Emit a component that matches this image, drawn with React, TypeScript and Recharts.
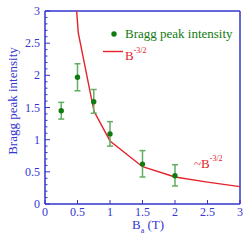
import {
  ComposedChart, Scatter, Line, XAxis, YAxis, ErrorBar, ReferenceLine,
} from 'recharts'

// measured Bragg peak intensity vs applied field
const fieldT = [0.25, 0.5, 0.75, 1.0, 1.5, 2.0]
const intensity = [1.45, 1.97, 1.59, 1.09, 0.62, 0.44]
const errLow = [0.13, 0.21, 0.18, 0.19, 0.2, 0.16]
const errHigh = [0.13, 0.21, 0.19, 0.19, 0.21, 0.17]

// B^-3/2 guide curve
const curveB = [0.487, 0.512, 0.754, 1.0, 1.5, 2.0, 2.5, 3.0]
const curveI = [3.0, 2.66, 1.44, 0.98, 0.58, 0.42, 0.34, 0.27]

const xTicks = [0, 0.5, 1, 1.5, 2, 2.5, 3]
const yMajor = [0, 0.5, 1, 1.5, 2, 2.5, 3]
const yTicks = yMajor.flatMap((v, i) =>
  i === yMajor.length - 1 ? [v] : [0, 0.1, 0.2, 0.3, 0.4].map(d => +(v + d).toFixed(1)),
)

const points = fieldT.map((b, i) => ({ b, v: intensity[i], err: [errLow[i], errHigh[i]] }))
const curve = curveB.map((b, i) => ({ b, c: curveI[i] }))

const BLUE = '#3535d0'
const GREEN = '#117a11'
const LIGHT_GREEN = '#62ae62'
const RED = '#e3222b'
const FONT = '"Liberation Serif", "DejaVu Serif", serif'

const isMajor = (v: number) => Math.abs(v * 2 - Math.round(v * 2)) < 1e-6

function YTick(props: any) {
  const { x, y, payload } = props
  const major = isMajor(payload.value)
  return (
    <g>
      <line x1={x} x2={x + (major ? 5 : 2.5)} y1={y} y2={y} stroke={BLUE} strokeWidth={1} />
      {major && (
        <text x={x - 5} y={y + 4} textAnchor="end" fill={BLUE} fontSize={12} fontFamily={FONT}>
          {payload.value}
        </text>
      )}
    </g>
  )
}

function XTick(props: any) {
  const { x, y, payload } = props
  return (
    <g>
      <line x1={x} x2={x} y1={y} y2={y - 4} stroke={BLUE} strokeWidth={1} />
      <text x={x} y={y + 12} textAnchor="middle" fill={BLUE} fontSize={12} fontFamily={FONT}>
        {payload.value}
      </text>
    </g>
  )
}

export default function App() {
  return (
    <div style={{ position: 'absolute', left: 0, top: 0, width: 248, height: 243 }}>
      <ComposedChart width={248} height={243} margin={{ top: 11, right: 8, left: 0, bottom: 0 }}>
        <XAxis
          dataKey="b" type="number" domain={[0, 3]} ticks={xTicks} interval={0}
          height={39} tickLine={false} tickSize={0} tickMargin={0} tick={<XTick />}
          axisLine={{ stroke: BLUE, strokeWidth: 1.5 }} allowDataOverflow
        />
        <YAxis
          type="number" domain={[0, 3]} ticks={yTicks} interval={0}
          width={45} tickLine={false} tickSize={0} tickMargin={0} tick={<YTick />}
          axisLine={{ stroke: BLUE, strokeWidth: 1.5 }} allowDataOverflow
        />
        <ReferenceLine y={3} stroke={BLUE} strokeWidth={1.5} />
        <ReferenceLine x={3} stroke={BLUE} strokeWidth={1.5} />
        <Line
          data={curve} dataKey="c" type="linear" stroke={RED} strokeWidth={1.4}
          dot={false} isAnimationActive={false}
        />
        <Scatter data={points} dataKey="v" fill={GREEN} isAnimationActive={false}
          shape={(p: any) => <circle cx={p.cx} cy={p.cy} r={2.7} fill={GREEN} />}>
          <ErrorBar dataKey="err" direction="y" width={3} stroke={LIGHT_GREEN} strokeWidth={1.5} />
        </Scatter>
      </ComposedChart>
      <svg width={248} height={243} style={{ position: 'absolute', left: 0, top: 0, pointerEvents: 'none' }}
        fontFamily={FONT}>
        <text transform="translate(17 101) rotate(-90)" textAnchor="middle" fill={BLUE} fontSize={13}>
          Bragg peak intensity
        </text>
        <text x={132} y={229} fill={BLUE} fontSize={13}>
          B<tspan fontSize={8} dy={4}>a</tspan><tspan dy={-4}> (T)</tspan>
        </text>
        <circle cx={114} cy={34} r={2.7} fill={GREEN} />
        <text x={125} y={38} fill={GREEN} fontSize={13}>Bragg peak intensity</text>
        <line x1={103} x2={123} y1={51.5} y2={51.5} stroke={RED} strokeWidth={1.4} />
        <text x={125} y={60} fill={RED} fontSize={13}>
          B<tspan fontSize={8} dy={-7}>-3/2</tspan>
        </text>
        <text x={194} y={168} fill={RED} fontSize={13}>
          ~B<tspan fontSize={8} dy={-7}>-3/2</tspan>
        </text>
      </svg>
    </div>
  )
}
